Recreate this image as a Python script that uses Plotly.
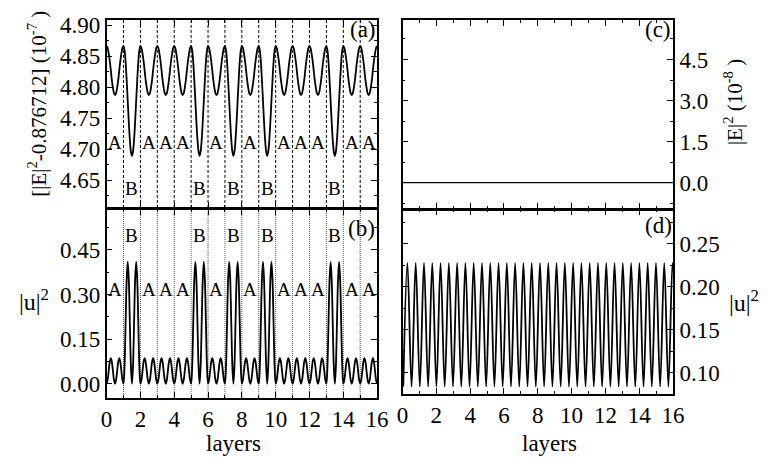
import plotly.graph_objects as go

# ---------------- data ----------------
LAYERS = ["A", "B", "A", "A", "A", "B", "A", "B", "A", "B", "A", "A", "A", "B", "A", "A"]
# positions inside one layer (fraction of layer thickness)
FRAC = [0, 1/16, 2/16, 3/16, 4/16, 5/16, 6/16, 7/16, 8/16,
        9/16, 10/16, 11/16, 12/16, 13/16, 14/16, 15/16, 1]

# panel (a): [|E|^2-0.876712] (1e-7) profile across one layer
E_A = [4.866, 4.863, 4.854, 4.842, 4.827, 4.811, 4.799, 4.790, 4.787,
       4.790, 4.799, 4.811, 4.827, 4.842, 4.854, 4.863, 4.866]
E_B = [4.866, 4.859, 4.840, 4.811, 4.778, 4.744, 4.715, 4.696, 4.689,
       4.696, 4.715, 4.744, 4.778, 4.811, 4.840, 4.859, 4.866]

# panel (b): |u|^2 profile across one layer
U_A = [0.000, 0.013, 0.043, 0.073, 0.086, 0.073, 0.043, 0.013, 0.000,
       0.013, 0.043, 0.073, 0.086, 0.073, 0.043, 0.013, 0.000]
U_B = [0.000, 0.060, 0.205, 0.350, 0.410, 0.350, 0.205, 0.060, 0.000,
       0.060, 0.205, 0.350, 0.410, 0.350, 0.205, 0.060, 0.000]

# panel (c): |E|^2 (1e-8), flat
C_X = [0, 16]
C_Y = [0.0, 0.0]

# panel (d): |u|^2 in the periodic case -- maxima positions and extreme values
D_PEAK_X = [0.29, 0.78, 1.27, 1.76, 2.25, 2.74, 3.23, 3.72, 4.21, 4.70, 5.19,
            5.68, 6.17, 6.66, 7.15, 7.64, 8.13, 8.62, 9.11, 9.60, 10.09, 10.58,
            11.07, 11.56, 12.05, 12.54, 13.03, 13.52, 14.01, 14.50, 14.99,
            15.48, 15.97]
D_MAX = 0.228
D_MIN = 0.084

X_TICKS = [0, 2, 4, 6, 8, 10, 12, 14, 16]

# ---------------- build curves ----------------
def build(profA, profB):
    xs, ys = [], []
    for i, lay in enumerate(LAYERS):
        prof = profA if lay == "A" else profB
        for j, f in enumerate(FRAC):
            if i > 0 and j == 0:
                continue
            xs.append(i + f)
            ys.append(prof[j])
    return xs, ys

ax_x, ax_y = build(E_A, E_B)
bx_x, bx_y = build(U_A, U_B)

dx, dy = [], []
half = (D_PEAK_X[1] - D_PEAK_X[0]) / 2
dx.append(D_PEAK_X[0] - half)
dy.append(D_MIN)
for k, p in enumerate(D_PEAK_X):
    dx.append(p)
    dy.append(D_MAX)
    nxt = D_PEAK_X[k + 1] if k + 1 < len(D_PEAK_X) else p + 2 * half
    dx.append((p + nxt) / 2)
    dy.append(D_MIN)

FONT = "Times New Roman"
W, H = 770, 462

fig = go.Figure()
line = dict(color="black", width=1.8)
fig.add_trace(go.Scatter(x=ax_x, y=ax_y, mode="lines", line=dict(shape="spline", **line),
                         xaxis="x", yaxis="y", showlegend=False))
fig.add_trace(go.Scatter(x=bx_x, y=bx_y, mode="lines", line=dict(shape="spline", **line),
                         xaxis="x2", yaxis="y2", showlegend=False))
fig.add_trace(go.Scatter(x=C_X, y=C_Y, mode="lines", line=dict(color="black", width=1.3),
                         xaxis="x3", yaxis="y3", showlegend=False))
fig.add_trace(go.Scatter(x=dx, y=dy, mode="lines", line=dict(shape="spline", **line),
                         xaxis="x4", yaxis="y4", showlegend=False))

def px_x(p):
    return p / W

def px_y(p):
    return 1 - p / H

LX = [px_x(103), px_x(380)]
RX = [px_x(406), px_x(683)]
A_Y = [px_y(204), px_y(13.3)]
B_Y = [px_y(397), px_y(205)]
C_Y_D = [px_y(205), px_y(13.3)]
D_Y = [px_y(393), px_y(205.7)]

tickfont = dict(family=FONT, size=23, color="black")

def xax(domain, anchor, labels):
    return dict(domain=domain, anchor=anchor, range=[0, 16], tickvals=X_TICKS,
                showticklabels=labels, ticks="inside", ticklen=6, tickwidth=1.2,
                tickcolor="black", showline=True, linecolor="black", linewidth=1.6,
                mirror="allticks", showgrid=False, zeroline=False, tickfont=tickfont,
                minor=dict(dtick=1, tick0=0, ticks="inside", ticklen=3, tickcolor="black",
                           showgrid=False))

def yax(domain, anchor, rng, tick0, dtick, mdtick, fmt, side):
    return dict(domain=domain, anchor=anchor, range=rng, tick0=tick0, dtick=dtick,
                tickformat=fmt, side=side, ticks="inside", ticklen=6, tickwidth=1.2,
                tickcolor="black", showline=True, linecolor="black", linewidth=1.6,
                mirror="allticks", showgrid=False, zeroline=False, tickfont=tickfont,
                minor=dict(dtick=mdtick, tick0=tick0, ticks="inside", ticklen=3,
                           tickcolor="black", showgrid=False))

fig.update_layout(
    width=W, height=H, autosize=False, margin=dict(l=0, r=0, t=0, b=0, pad=0),
    paper_bgcolor="white", plot_bgcolor="white",
    font=dict(family=FONT, color="black"),
    xaxis=xax(LX, "y", False),
    xaxis2=xax(LX, "y2", True),
    xaxis3=xax(RX, "y3", False),
    xaxis4=xax(RX, "y4", True),
    yaxis=yax(A_Y, "x", [4.605, 4.908], 4.65, 0.05, 0.025, ".2f", "left"),
    yaxis2=yax(B_Y, "x2", [-0.048, 0.588], 0, 0.15, 0.075, ".2f", "left"),
    yaxis3=yax(C_Y_D, "x3", [-0.96, 5.94], 0, 1.5, 0.75, ".1f", "right"),
    yaxis4=yax(D_Y, "x4", [0.0753, 0.290], 0.10, 0.05, 0.025, ".2f", "right"),
)

shapes = []
for i in range(1, 16):
    shapes.append(dict(type="line", xref="x", yref="y domain", x0=i, x1=i, y0=0, y1=1,
                       line=dict(color="black", width=1, dash="3px,2px"), layer="below"))
    shapes.append(dict(type="line", xref="x2", yref="y2 domain", x0=i, x1=i, y0=0, y1=1,
                       line=dict(color="#555555", width=1, dash="1px,1px"), layer="below"))
fig.update_layout(shapes=shapes)

ann = []
lab = dict(family=FONT, size=19, color="black")
for i, lay in enumerate(LAYERS):
    if lay == "A":
        ann.append(dict(x=i + 0.5, y=4.711, xref="x", yref="y", text="A", showarrow=False, font=lab))
        ann.append(dict(x=i + 0.5, y=0.318, xref="x2", yref="y2", text="A", showarrow=False, font=lab))
    else:
        ann.append(dict(x=i + 0.5, y=4.637, xref="x", yref="y", text="B", showarrow=False, font=lab))
        ann.append(dict(x=i + 0.5, y=0.50, xref="x2", yref="y2", text="B", showarrow=False, font=lab))

def pa(x, y, text, angle=0, size=22, xanchor="center"):
    return dict(x=px_x(x), y=px_y(y), xref="paper", yref="paper", text=text,
                showarrow=False, textangle=angle, font=dict(family=FONT, size=size, color="black"),
                xanchor=xanchor, yanchor="middle")

ann += [
    pa(366, 23, "(a)", size=23),
    pa(364, 225, "(b)", size=23),
    pa(668, 23, "(c)", size=23),
    pa(668, 222, "(d)", size=23),
    pa(32, 98, "[|E|<sup>2</sup>-0.876712] (10<sup>-7</sup> )", angle=-90, size=21),
    pa(745, 97, "|E|<sup>2</sup> (10<sup>-8</sup> )", angle=-90, size=21),
    pa(29, 297, "|u|<sup>2</sup>", size=24),
    pa(756, 299, "|u|<sup>2</sup>", size=24, xanchor="center"),
    pa(233, 443, "layers", size=23),
    pa(557, 443, "layers", size=23),
]
fig.update_layout(annotations=ann)

fig.write_html("out.html", config={"responsive": False, "displayModeBar": False},
               post_script="document.body.style.margin='0';document.body.style.padding='0';document.body.style.overflow='hidden';")
